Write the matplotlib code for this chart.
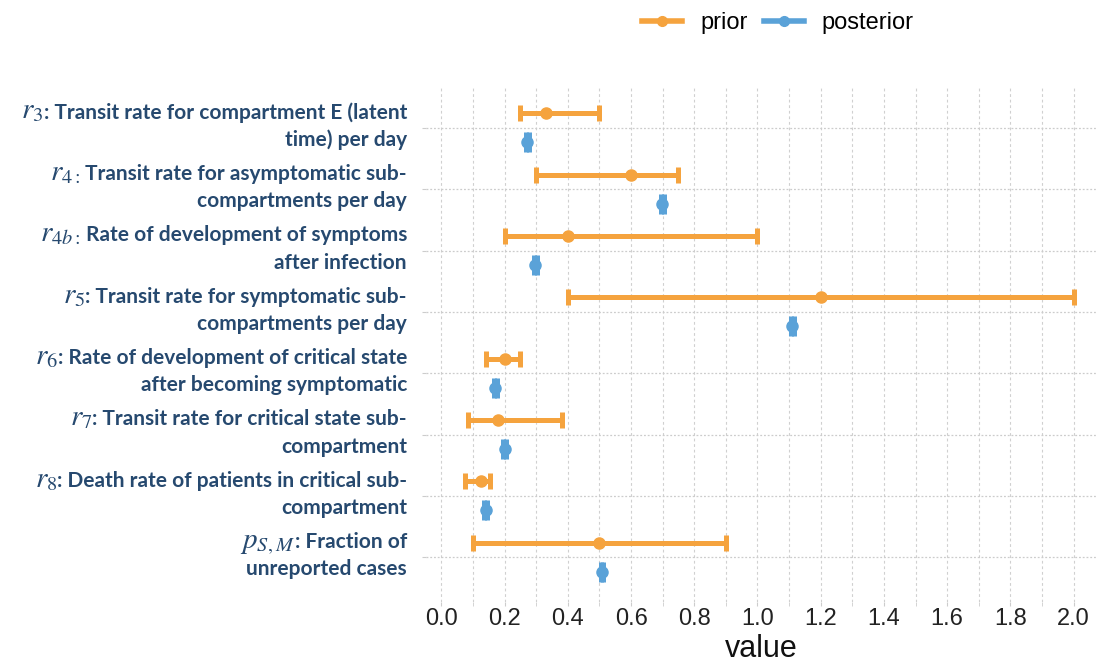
import numpy as np
import matplotlib
matplotlib.use("Agg")
import matplotlib.pyplot as plt
import matplotlib.transforms as mtransforms
from matplotlib.lines import Line2D
from matplotlib.ticker import MultipleLocator

plt.rcParams['mathtext.fontset'] = 'stix'

# parameter symbols and descriptions (top to bottom)
symbols = ["$r_3$", "$r_{4:}$", "$r_{4b:}$", "$r_5$", "$r_6$", "$r_7$", "$r_8$", "$p_{S,M}$"]
line1 = [
    ": Transit rate for compartment E (latent",
    " Transit rate for asymptomatic sub-",
    " Rate of development of symptoms",
    ": Transit rate for symptomatic sub-",
    ": Rate of development of critical state",
    ": Transit rate for critical state sub-",
    ": Death rate of patients in critical sub-",
    ": Fraction of",
]
line2 = [
    "time) per day",
    "compartments per day",
    "after infection",
    "compartments per day",
    "after becoming symptomatic",
    "compartment",
    "compartment",
    "unreported cases",
]

# prior: point value and range
prior_mid = [0.33, 0.60, 0.40, 1.20, 0.20, 0.18, 0.125, 0.50]
prior_low = [0.25, 0.30, 0.20, 0.40, 0.14, 0.085, 0.075, 0.10]
prior_high = [0.50, 0.75, 1.00, 2.00, 0.25, 0.38, 0.155, 0.90]

# posterior: point value and (narrow) range
post_mid = [0.272, 0.699, 0.297, 1.11, 0.171, 0.200, 0.140, 0.508]
post_low = [0.268, 0.695, 0.293, 1.106, 0.167, 0.196, 0.136, 0.504]
post_high = [0.276, 0.703, 0.301, 1.114, 0.175, 0.204, 0.144, 0.512]

ticks = [0.0, 0.2, 0.4, 0.6, 0.8, 1.0, 1.2, 1.4, 1.6, 1.8, 2.0]

orange = "#F5A33E"
blue = "#5AA2D8"
navy = "#26496F"

fig = plt.figure(figsize=(10.99, 6.66), dpi=100)
ax = fig.add_axes([0.3876, 0.096, 0.6105, 0.772])

ypos = np.arange(len(symbols))
off = 0.237

pm = np.array(prior_mid)
ax.errorbar(pm, ypos - off,
            xerr=[pm - np.array(prior_low), np.array(prior_high) - pm],
            fmt='o', color=orange, ms=8, elinewidth=3.6, capsize=6, capthick=3.6, zorder=3)

qm = np.array(post_mid)
ax.errorbar(qm, ypos + off,
            xerr=[qm - np.array(post_low), np.array(post_high) - qm],
            fmt='o', color=blue, ms=8, elinewidth=3.6, capsize=7, capthick=3.6, zorder=3)

ax.set_ylim(len(symbols) - 1 + 0.73, -0.65)
ax.set_xlim(-0.049, 2.074)
ax.set_yticks(ypos)
ax.set_yticklabels([])

ax.xaxis.set_minor_locator(MultipleLocator(0.1))
ax.set_xticks(ticks)
ax.set_xticklabels([f"{v:.1f}" for v in ticks], fontsize=17, color="#222222",
                   family='Liberation Sans')
ax.set_xlabel("value", fontsize=22, color="#111111", family='Liberation Sans', labelpad=3)

ax.grid(True, which='both', axis='x', color='#d0d0d0', linestyle=(0, (2.5, 2.5)), linewidth=0.8)
ax.grid(True, axis='y', color='#cccccc', linestyle=(0, (1.5, 1.5)), linewidth=0.9)
ax.set_axisbelow(True)
ax.tick_params(axis='both', which='both', length=3, color='#cccccc')
ax.tick_params(axis='x', pad=1)
for s in ax.spines.values():
    s.set_visible(False)

# two-line labels, right aligned, with a larger math symbol in front
renderer = fig.canvas.get_renderer()
trans = ax.get_yaxis_transform() + mtransforms.ScaledTranslation(-19 / 100, 0, fig.dpi_scale_trans)
font = dict(family=['Lato', 'DejaVu Sans'], fontweight='bold', fontsize=15, color=navy)
for i in range(len(symbols)):
    t1 = ax.text(0, ypos[i] - 0.15, line1[i], transform=trans, ha='right', va='baseline', **font)
    ax.text(0, ypos[i] + 0.295, line2[i], transform=trans, ha='right', va='baseline', **font)
    w = t1.get_window_extent(renderer).width
    sym_trans = trans + mtransforms.ScaledTranslation(-w / 100, 0, fig.dpi_scale_trans)
    ax.text(0, ypos[i] - 0.15, symbols[i], transform=sym_trans, ha='right', va='baseline',
            fontsize=21, color=navy)

handles = [
    Line2D([0], [0], color=orange, lw=4, marker='o', ms=7),
    Line2D([0], [0], color=blue, lw=4, marker='o', ms=7),
]
fig.legend(handles, ["prior", "posterior"], loc='center', bbox_to_anchor=(0.708, 0.965),
           ncol=2, frameon=False, prop={'family': 'Liberation Sans', 'size': 17},
           handlelength=1.7, columnspacing=0.7, handletextpad=0.75)

fig.savefig("out.png", dpi=100)
